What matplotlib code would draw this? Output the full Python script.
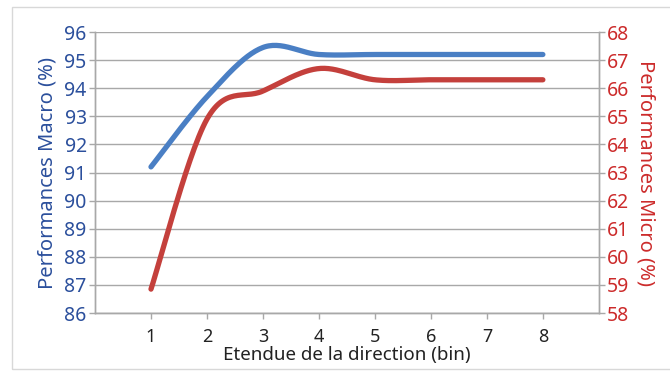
import numpy as np
import matplotlib
matplotlib.use("Agg")
import matplotlib.pyplot as plt
from matplotlib.patches import Rectangle

bins = [1, 2, 3, 4, 5, 6, 7, 8]
macro = [91.2, 93.7, 95.45, 95.2, 95.2, 95.2, 95.2, 95.2]
micro = [58.85, 64.9, 65.9, 66.7, 66.3, 66.3, 66.3, 66.3]

blue_txt = "#2b4f9c"
red_txt = "#cc2b2b"
blue_line = "#4a7fc4"
red_line = "#c4403c"
grid_c = "#a8a8a8"

plt.rcParams['font.family'] = ['Noto Sans', 'DejaVu Sans']


def smooth(xs, ys, n=30):
    # catmull-rom curve through the points, like the spreadsheet "smoothed line"
    p = np.column_stack([xs, ys]).astype(float)
    p = np.vstack([p[0], p, p[-1]])
    out = []
    t = np.linspace(0, 1, n)
    for i in range(1, len(p) - 2):
        p0, p1, p2, p3 = p[i - 1], p[i], p[i + 1], p[i + 2]
        c1 = p1 + (p2 - p0) / 6
        c2 = p2 - (p3 - p1) / 6
        seg = ((1 - t) ** 3)[:, None] * p1 + (3 * (1 - t) ** 2 * t)[:, None] * c1 \
            + (3 * (1 - t) * t ** 2)[:, None] * c2 + (t ** 3)[:, None] * p2
        out.append(seg)
    out = np.vstack(out)
    return out[:, 0], out[:, 1]


fig = plt.figure(figsize=(6.7, 3.71), dpi=100)
fig.patches.append(Rectangle((0.018, 0.006), 1.0, 0.975, transform=fig.transFigure,
                             fill=False, edgecolor="#d8d8d8", lw=1))
ax = fig.add_axes([0.1418, 0.1563, 0.752, 0.7574])
ax2 = ax.twinx()

ax.set_xlim(0, 9)
ax.set_ylim(86, 96)
ax2.set_ylim(58, 68)
ax.set_yticks(range(86, 97))
ax2.set_yticks(range(58, 69))
ax.set_xticks(bins)
ax.grid(axis="y", color=grid_c, lw=1)
ax.set_axisbelow(True)

for a in (ax, ax2):
    a.spines["top"].set_visible(False)
    for s in ("left", "right", "bottom"):
        a.spines[s].set_color(grid_c)
        a.spines[s].set_linewidth(1)

ax.tick_params(axis="y", colors=grid_c, labelcolor=blue_txt, labelsize=14, length=4, width=1, pad=2)
ax2.tick_params(axis="y", colors=grid_c, labelcolor=red_txt, labelsize=14, length=4, width=1, pad=2)
ax.tick_params(axis="x", colors=grid_c, labelcolor="#222222", labelsize=13, length=4, width=1, pad=7)

sx, sy = smooth(bins, macro)
ax.plot(sx, sy, color=blue_line, lw=3.8, solid_capstyle="round", zorder=3)
sx, sy = smooth(bins, micro)
ax2.plot(sx, sy, color=red_line, lw=3.8, solid_capstyle="round", zorder=3)

ax.set_ylabel("Performances Macro (%)", color=blue_txt, fontsize=14.5, labelpad=5)
ax2.set_ylabel("Performances Micro (%)", color=red_txt, fontsize=14.5, rotation=270, labelpad=19)
ax.set_xlabel("Etendue de la direction (bin)", color="#222222", fontsize=13.5, labelpad=0)

fig.savefig("out.png", dpi=100)
